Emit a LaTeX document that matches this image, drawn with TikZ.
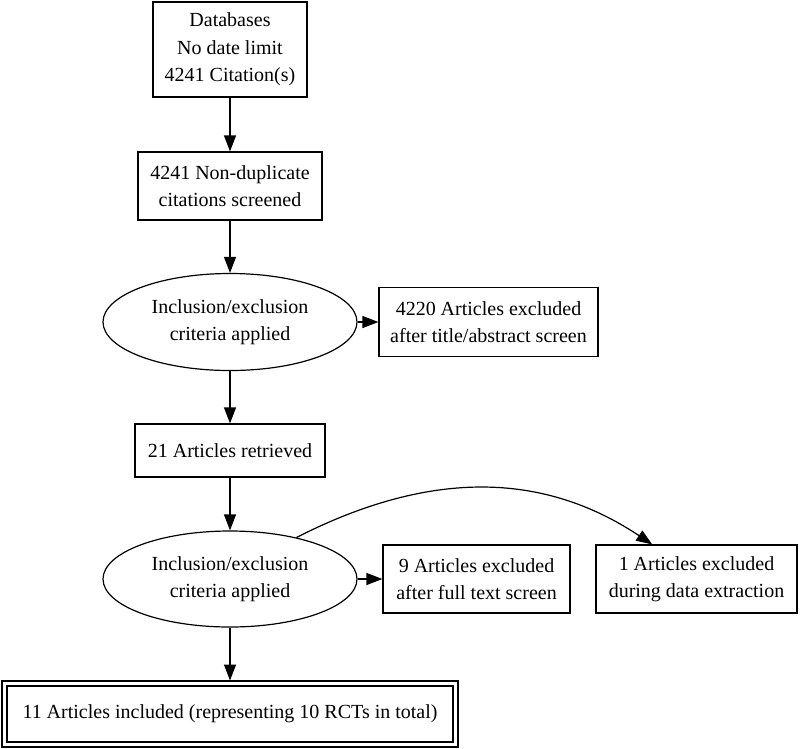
\documentclass[tikz,border=0pt]{standalone}
\usepackage{fontspec}
\setmainfont{Liberation Serif}
\usetikzlibrary{shapes.geometric,arrows.meta}

\begin{document}
\begin{tikzpicture}[
  x=1pt, y=-1pt,
  every node/.style={font=\fontsize{20}{27.5}\selectfont, align=center, inner sep=0pt},
  prbox/.style   ={rectangle, draw, line width=1.2pt},
  prell/.style   ={ellipse, draw, line width=1.2pt, minimum width=254pt, minimum height=97pt},
  prfinal/.style ={rectangle, draw, line width=1.2pt, double, double distance=3.8pt, outer sep=3pt},
  prarrow/.style ={line width=1.2pt, -{Triangle[length=16pt,width=12pt]}},
]
\useasboundingbox (0,0) rectangle (800,748);
\def\xM{230}
% main column
\node[prbox, minimum width=154pt, minimum height=95pt] (db) at (\xM,49.5) {Databases\\No date limit\\4241 Citation(s)};
\node[prbox, minimum width=184pt, minimum height=68pt] (nondup) at (\xM,186) {4241 Non-duplicate\\citations screened};
\node[prell] (crit1) at (\xM,322) {Inclusion/exclusion\\criteria applied};
\node[prbox, minimum width=190pt, minimum height=53pt] (retr) at (\xM,450.5) {21 Articles retrieved};
\node[prell, minimum height=96pt] (crit2) at (\xM,579) {Inclusion/exclusion\\criteria applied};
\node[prfinal, minimum width=451pt, minimum height=61pt] (incl) at (\xM,714) {11 Articles included (representing 10 RCTs in total)};
% exclusions
\node[prbox, minimum width=219pt, minimum height=69pt] (exTitle) at (488.5,322) {4220 Articles excluded\\after title/abstract screen};
\node[prbox, minimum width=187pt, minimum height=68pt] (exFull) at (476.5,579) {9 Articles excluded\\after full text screen};
\node[prbox, minimum width=201pt, minimum height=68pt] (exData) at (696.5,579) {1 Articles excluded\\during data extraction};
% arrows
\draw[prarrow] (db) -- (nondup);
\draw[prarrow] (nondup) -- (crit1);
\draw[prarrow] (crit1) -- (exTitle);
\draw[prarrow] (crit1) -- (retr);
\draw[prarrow] (retr) -- (crit2);
\draw[prarrow] (crit2) -- (exFull);
\draw[prarrow] (crit2) -- (incl);
\draw[prarrow] (crit2.32) .. controls (425,472) and (539,469) .. (exData.142);
\end{tikzpicture}
\end{document}
